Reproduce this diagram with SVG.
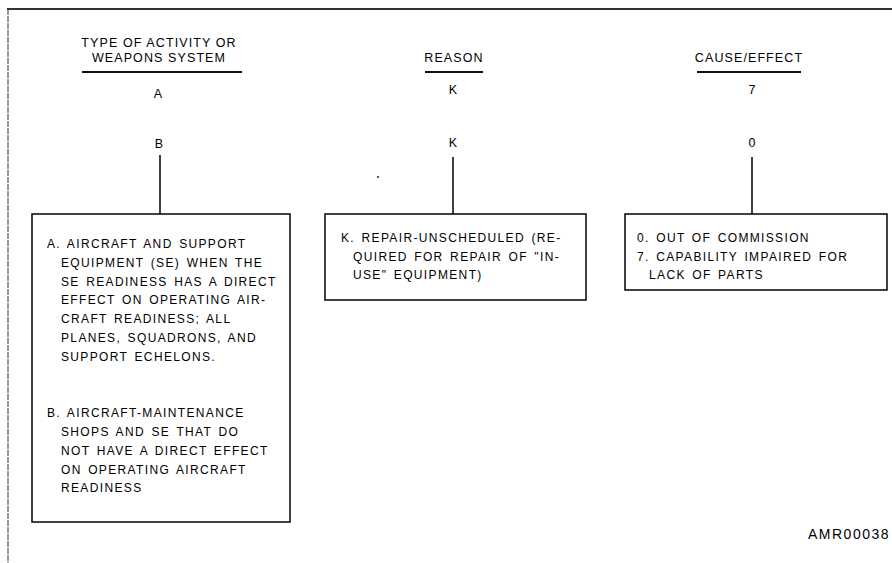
<svg xmlns="http://www.w3.org/2000/svg" width="892" height="563" viewBox="0 0 892 563">
  <style>
    .frame { stroke: #333; fill: none; }
    .rule { stroke: #111; stroke-width: 2; fill: none; }
    .box { stroke: #111; stroke-width: 1.6; fill: #fff; }
    .link { stroke: #111; stroke-width: 1.6; fill: none; }
    .head { font-family: "Liberation Sans", Arial, sans-serif; font-size: 12.5px; letter-spacing: 1.1px; fill: #000; text-anchor: middle; }
    .code { font-family: "Liberation Sans", Arial, sans-serif; font-size: 12.5px; fill: #000; text-anchor: middle; }
    .body { font-family: "Liberation Sans", Arial, sans-serif; font-size: 12px; letter-spacing: 1.35px; word-spacing: 1.8px; fill: #000; }
    .tag { font-family: "Liberation Sans", Arial, sans-serif; font-size: 14px; letter-spacing: 1.5px; fill: #000; }
  </style>

  <!-- page frame: top rule and left edge -->
  <g id="frame">
    <line class="frame" x1="7" y1="9" x2="892" y2="9" stroke-width="2"/>
    <line class="frame" x1="8" y1="9" x2="8" y2="563" stroke-width="1" stroke-dasharray="6 1"/>
  </g>

  <!-- column headings -->
  <g id="heading-activity">
    <text class="head" x="159" y="47">TYPE OF ACTIVITY OR</text>
    <text class="head" x="159" y="62">WEAPONS SYSTEM</text>
    <line class="rule" x1="82" y1="72" x2="242" y2="72"/>
  </g>
  <g id="heading-reason">
    <text class="head" x="454" y="62">REASON</text>
    <line class="rule" x1="425" y1="72" x2="483" y2="72"/>
  </g>
  <g id="heading-cause">
    <text class="head" x="749" y="62">CAUSE/EFFECT</text>
    <line class="rule" x1="697" y1="72" x2="801" y2="72"/>
  </g>

  <!-- example codes -->
  <g id="codes-top">
    <text class="code" x="158" y="98">A</text>
    <text class="code" x="453" y="94">K</text>
    <text class="code" x="752" y="94">7</text>
  </g>
  <g id="code-b"><text class="code" x="159" y="148">B</text></g>
  <g id="code-k"><text class="code" x="453" y="147">K</text></g>
  <g id="code-0"><text class="code" x="752" y="147">0</text></g>

  <!-- stray mark -->
  <circle cx="378" cy="177" r="1" fill="#222"/>

  <!-- connectors from codes to explanation boxes -->
  <g id="connectors">
    <line class="link" x1="160" y1="155" x2="160" y2="214"/>
    <line class="link" x1="453" y1="157" x2="453" y2="214"/>
    <line class="link" x1="752" y1="157" x2="752" y2="214"/>
  </g>

  <!-- activity explanation -->
  <g id="box-activity">
    <rect class="box" x="32" y="214" width="258" height="308"/>
    <text class="body" x="47" y="248">A. AIRCRAFT AND SUPPORT</text>
    <text class="body" x="61" y="267">EQUIPMENT (SE) WHEN THE</text>
    <text class="body" x="61" y="285.5">SE READINESS HAS A DIRECT</text>
    <text class="body" x="61" y="304">EFFECT ON OPERATING AIR-</text>
    <text class="body" x="61" y="323">CRAFT READINESS; ALL</text>
    <text class="body" x="61" y="342">PLANES, SQUADRONS, AND</text>
    <text class="body" x="61" y="360.5">SUPPORT ECHELONS.</text>
    <text class="body" x="47" y="417">B. AIRCRAFT-MAINTENANCE</text>
    <text class="body" x="61" y="436">SHOPS AND SE THAT DO</text>
    <text class="body" x="61" y="455">NOT HAVE A DIRECT EFFECT</text>
    <text class="body" x="61" y="473.5">ON OPERATING AIRCRAFT</text>
    <text class="body" x="61" y="492">READINESS</text>
  </g>

  <!-- reason explanation -->
  <g id="box-reason">
    <rect class="box" x="325" y="214" width="261" height="86"/>
    <text class="body" x="341" y="242">K. REPAIR-UNSCHEDULED (RE-</text>
    <text class="body" x="353" y="260.5">QUIRED FOR REPAIR OF "IN-</text>
    <text class="body" x="353" y="279">USE" EQUIPMENT)</text>
  </g>

  <!-- cause/effect explanation -->
  <g id="box-cause">
    <rect class="box" x="625" y="214" width="262" height="76"/>
    <text class="body" x="637" y="242">0. OUT OF COMMISSION</text>
    <text class="body" x="637" y="260.5">7. CAPABILITY IMPAIRED FOR</text>
    <text class="body" x="649" y="279">LACK OF PARTS</text>
  </g>

  <g id="figure-id">
    <text class="tag" x="808" y="539">AMR00038</text>
  </g>
</svg>
